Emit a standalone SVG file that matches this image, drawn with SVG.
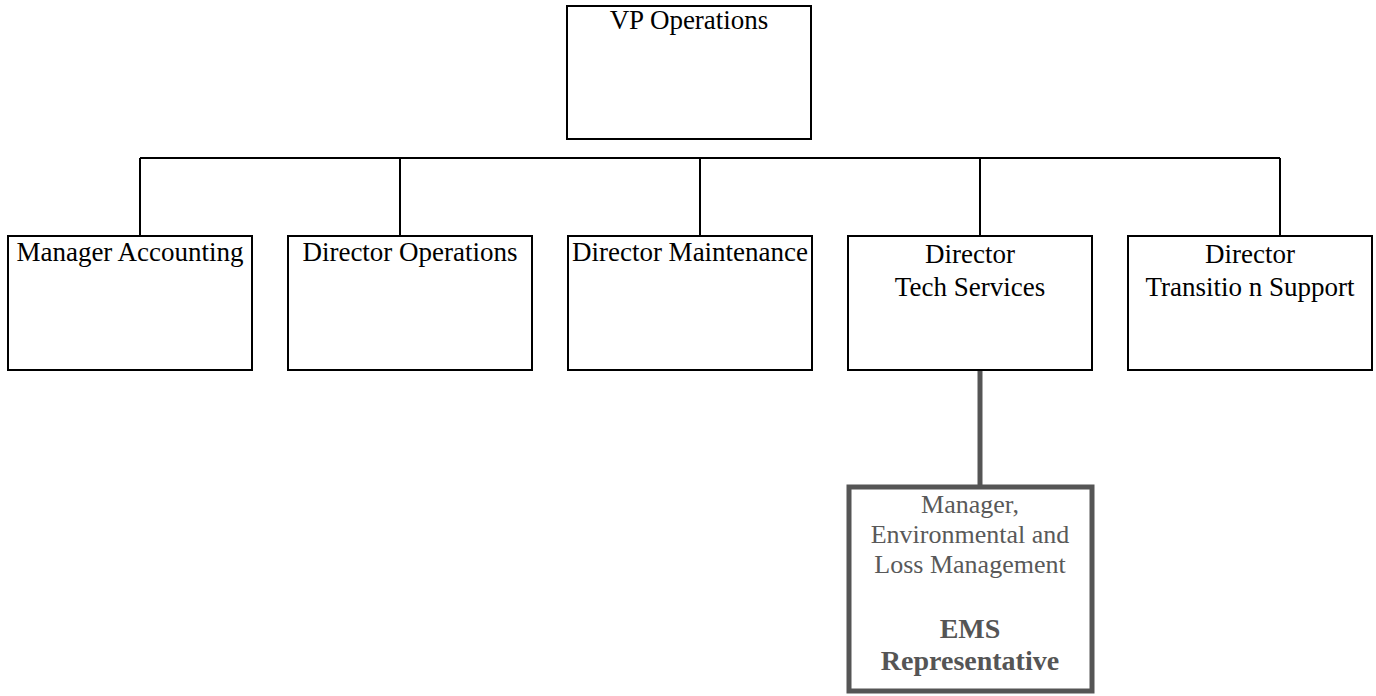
<svg xmlns="http://www.w3.org/2000/svg" width="1376" height="696" viewBox="0 0 1376 696">
<style>
.box{fill:#fff;stroke:#000;stroke-width:2}
.t{font-family:'Liberation Serif','Times New Roman',Times,'DejaVu Serif',serif;font-size:27px;fill:#000;text-anchor:middle}
.ems{fill:#fff;stroke:#555;stroke-width:5}
.et{font-family:'Liberation Serif','Times New Roman',Times,'DejaVu Serif',serif;font-size:26px;fill:#595959;text-anchor:middle}
.eb{font-family:'Liberation Serif','Times New Roman',Times,'DejaVu Serif',serif;font-size:28px;font-weight:bold;fill:#555;text-anchor:middle}
.c{fill:none;stroke:#000;stroke-width:2}
</style>
<rect width="1376" height="696" fill="#fff"/>
<g id="connectors">
<path class="c" d="M140 158H1280M140 158V236M400 158V236M700 158V236M980 158V236M1280 158V236"/>
<path d="M980 370V486" fill="none" stroke="#555" stroke-width="5"/>
</g>
<g id="vp"><rect class="box" x="567" y="6" width="244" height="133"/><text class="t" x="689" y="29">VP Operations</text></g>
<g id="acc"><rect class="box" x="8" y="236" width="244" height="134"/><text class="t" x="130" y="261">Manager Accounting</text></g>
<g id="ops"><rect class="box" x="288" y="236" width="244" height="134"/><text class="t" x="410" y="261">Director Operations</text></g>
<g id="mnt"><rect class="box" x="568" y="236" width="244" height="134"/><text class="t" x="690" y="261">Director Maintenance</text></g>
<g id="tech"><rect class="box" x="848" y="236" width="244" height="134"/><text class="t" x="970" y="263">Director</text><text class="t" x="970" y="296">Tech Services</text></g>
<g id="trans"><rect class="box" x="1128" y="236" width="244" height="134"/><text class="t" x="1250" y="263">Director</text><text class="t" x="1250" y="296">Transitio n Support</text></g>
<g id="ems"><rect class="ems" x="849" y="487" width="243" height="204"/>
<text class="et" x="970" y="513">Manager,</text>
<text class="et" x="970" y="543">Environmental and</text>
<text class="et" x="970" y="573">Loss Management</text>
<text class="eb" x="970" y="638">EMS</text>
<text class="eb" x="970" y="670">Representative</text></g>
</svg>
